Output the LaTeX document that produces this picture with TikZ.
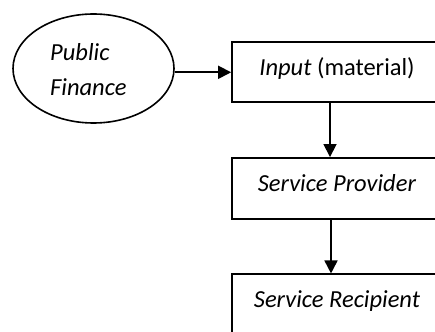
\documentclass[tikz,border=0pt]{standalone}
\usepackage{fontspec}
\setmainfont{Carlito}
\usetikzlibrary{shapes.geometric,arrows.meta}
\begin{document}
\begin{tikzpicture}[x=1pt,y=-1pt,
  lbl/.style={font=\fontsize{24.5}{29}\selectfont},
  itl/.style={font=\fontsize{24.5}{29}\selectfont\itshape},
  stage/.style={draw,line width=1.7pt,minimum width=210pt,minimum height=60pt,
    inner sep=0pt,text height=18pt,text depth=12pt,lbl},
  flow/.style={line width=1.7pt,-{Triangle[length=13pt,width=13pt]}}]
\useasboundingbox (0,0) rectangle (435,331);
\clip (0,0) rectangle (435,331);
% funding source
\node[draw,ellipse,line width=1.6pt,minimum width=161pt,minimum height=109pt,inner sep=0pt]
  (fin) at (93.5,68.5) {};
\node[anchor=base west,itl,inner sep=0pt] (pub) at (50,61) {Public};
\node[anchor=base west,itl,inner sep=0pt] (fnc) at (50,96) {Finance};
% chain of stages
\node[stage] (inp) at (337,72.3) {\textit{Input} (material)};
\node[stage,minimum height=61pt] (prov) at (337,188.4) {\textit{Service Provider}};
\node[stage,minimum height=61pt] (rec) at (337,304.8) {\textit{Service Recipient}};
\draw[flow] (fin.east |- inp.west) -- (inp.west);
\draw[flow] (inp.south -| 330,0) -- (prov.north -| 330,0);
\draw[flow] (prov.south -| 331,0) -- (rec.north -| 331,0);
\end{tikzpicture}
\end{document}
